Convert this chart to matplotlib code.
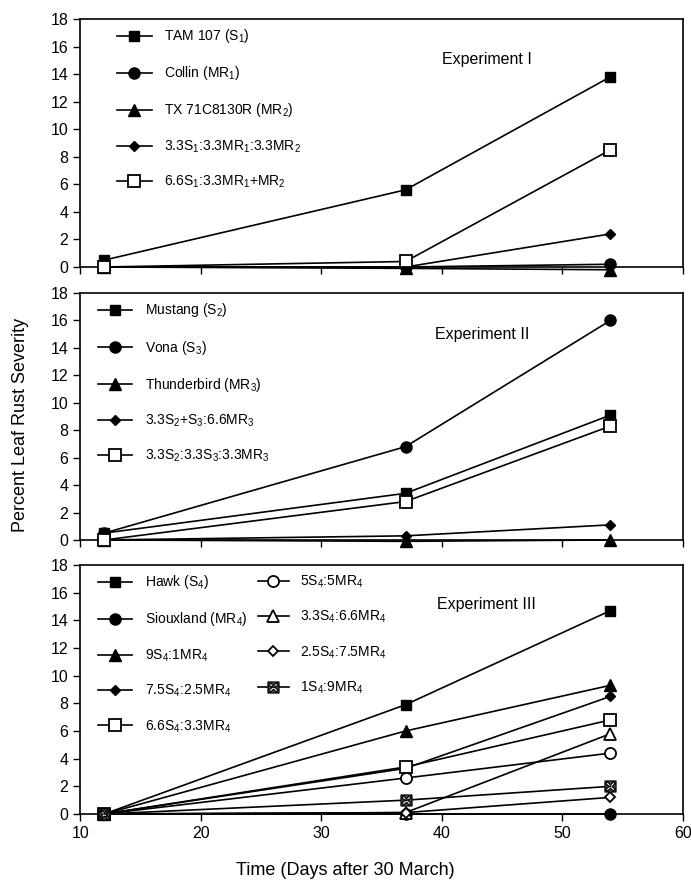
import numpy as np
import matplotlib
matplotlib.use("Agg")
import matplotlib.pyplot as plt
from matplotlib.path import Path

plt.rcParams['font.family'] = ['Liberation Sans', 'DejaVu Sans']
plt.rcParams['mathtext.fontset'] = 'custom'
plt.rcParams['mathtext.rm'] = 'Liberation Sans'
plt.rcParams['mathtext.it'] = 'Liberation Sans'

# ---------------- data ----------------
days = [12, 37, 54]

# Experiment I
exp1_labels = [r'TAM 107 (S$_1$)', r'Collin (MR$_1$)', r'TX 71C8130R (MR$_2$)',
               r'3.3S$_1$:3.3MR$_1$:3.3MR$_2$', r'6.6S$_1$:3.3MR$_1$+MR$_2$']
tam107 = [0.5, 5.6, 13.8]
collin = [0.0, 0.0, 0.2]
tx71 = [0.0, -0.1, -0.2]
mix1a = [0.0, 0.0, 2.4]
mix1b = [0.0, 0.4, 8.5]

# Experiment II
exp2_labels = [r'Mustang (S$_2$)', r'Vona (S$_3$)', r'Thunderbird (MR$_3$)',
               r'3.3S$_2$+S$_3$:6.6MR$_3$', r'3.3S$_2$:3.3S$_3$:3.3MR$_3$']
mustang = [0.5, 3.4, 9.1]
vona = [0.5, 6.8, 16.0]
thunderbird = [0.0, -0.1, 0.0]
mix2a = [0.0, 0.3, 1.1]
mix2b = [0.0, 2.8, 8.3]

# Experiment III
exp3_labels = [r'Hawk (S$_4$)', r'Siouxland (MR$_4$)', r'9S$_4$:1MR$_4$',
               r'7.5S$_4$:2.5MR$_4$', r'6.6S$_4$:3.3MR$_4$', r'5S$_4$:5MR$_4$',
               r'3.3S$_4$:6.6MR$_4$', r'2.5S$_4$:7.5MR$_4$', r'1S$_4$:9MR$_4$']
hawk = [0.0, 7.9, 14.7]
siouxland = [0.0, 0.0, 0.0]
m9_1 = [0.0, 6.0, 9.3]
m75_25 = [0.0, 3.3, 8.5]
m66_33 = [0.0, 3.4, 6.8]
m5_5 = [0.0, 2.6, 4.4]
m33_66 = [0.0, 0.1, 5.8]
m25_75 = [0.0, 0.1, 1.2]
m1_9 = [0.0, 1.0, 2.0]

yticks = [0, 2, 4, 6, 8, 10, 12, 14, 16, 18]
xticks = [10, 20, 30, 40, 50, 60]

# ---------------- marker: square with an X cut out ----------------
_sq = [(-1, -1), (1, -1), (1, 1), (-1, 1), (-1, -1)]
_t, _L = 0.2, 0.95
_plus = np.array([(_t, _t), (_L, _t), (_L, -_t), (_t, -_t), (_t, -_L), (-_t, -_L),
                  (-_t, -_t), (-_L, -_t), (-_L, _t), (-_t, _t), (-_t, _L), (_t, _L),
                  (_t, _t)])
_c, _s = np.cos(np.pi / 4), np.sin(np.pi / 4)
_xcross = _plus @ np.array([[_c, _s], [-_s, _c]])
_verts = list(_sq) + [tuple(v) for v in _xcross]
_codes = ([Path.MOVETO] + [Path.LINETO] * 3 + [Path.CLOSEPOLY] +
          [Path.MOVETO] + [Path.LINETO] * 11 + [Path.CLOSEPOLY])
BOX_X = Path(_verts, _codes)

# ---------------- styles ----------------
LW = 1.2
FILLED_SQ = dict(marker='s', ms=7.5, mfc='black', mec='black')
FILLED_CI = dict(marker='o', ms=8, mfc='black', mec='black')
FILLED_TR = dict(marker='^', ms=8, mfc='black', mec='black')
FILLED_DI = dict(marker='D', ms=5.5, mfc='black', mec='black')
OPEN_SQ = dict(marker='s', ms=8, mfc='white', mec='black', mew=1.3)
OPEN_CI = dict(marker='o', ms=8, mfc='white', mec='black', mew=1.3)
OPEN_TR = dict(marker='^', ms=8, mfc='white', mec='black', mew=1.3)
OPEN_DI = dict(marker='D', ms=5.5, mfc='white', mec='black', mew=1.3)
XSQ = dict(marker=BOX_X, ms=8, mfc='#444444', mec='black', mew=0.8)

fig = plt.figure(figsize=(6.91, 8.90), dpi=100)

left, width = 0.116, 0.872
positions = [(left, 0.700, width, 0.2787),
             (left, 0.3933, width, 0.2775),
             (left, 0.0854, width, 0.2798)]
axes = [fig.add_axes(p) for p in positions]

LEG = dict(loc='upper left', frameon=False, fontsize=10, handlelength=2.5,
           handletextpad=0.9, labelspacing=1.37, borderaxespad=0.3)


def style_axis(ax, show_xlabels):
    ax.set_xlim(10, 60)
    ax.set_ylim(0, 18)
    ax.set_yticks(yticks)
    ax.set_xticks(xticks)
    ax.tick_params(direction='out', length=5, width=1, labelsize=11.5, colors='black')
    if not show_xlabels:
        ax.tick_params(axis='x', labelbottom=False)
    for s in ax.spines.values():
        s.set_linewidth(1.2)


def plot_series(ax, y, label, style, z=3):
    ln, = ax.plot(days, y, color='black', lw=LW, ls='-', label=label, clip_on=False,
                  zorder=z, **style)
    return ln


# Experiment I
ax = axes[0]
h = []
h.append(plot_series(ax, tam107, exp1_labels[0], FILLED_SQ))
h.append(plot_series(ax, collin, exp1_labels[1], FILLED_CI))
h.append(plot_series(ax, tx71, exp1_labels[2], FILLED_TR))
h.append(plot_series(ax, mix1a, exp1_labels[3], FILLED_DI))
h.append(plot_series(ax, mix1b, exp1_labels[4], OPEN_SQ, z=4))
style_axis(ax, False)
ax.legend(handles=h, bbox_to_anchor=(0.045, 1.005), **LEG)
ax.text(0.675, 0.835, 'Experiment I', transform=ax.transAxes, fontsize=11.5,
        ha='center', va='center')

# Experiment II
ax = axes[1]
h = []
h.append(plot_series(ax, mustang, exp2_labels[0], FILLED_SQ))
h.append(plot_series(ax, vona, exp2_labels[1], FILLED_CI))
h.append(plot_series(ax, thunderbird, exp2_labels[2], FILLED_TR))
h.append(plot_series(ax, mix2a, exp2_labels[3], FILLED_DI))
h.append(plot_series(ax, mix2b, exp2_labels[4], OPEN_SQ, z=4))
style_axis(ax, False)
ax.legend(handles=h, bbox_to_anchor=(0.013, 1.005), **LEG)
ax.text(0.668, 0.83, 'Experiment II', transform=ax.transAxes, fontsize=11.5,
        ha='center', va='center')

# Experiment III
ax = axes[2]
h = []
h.append(plot_series(ax, hawk, exp3_labels[0], FILLED_SQ))
h.append(plot_series(ax, siouxland, exp3_labels[1], FILLED_CI))
h.append(plot_series(ax, m9_1, exp3_labels[2], FILLED_TR))
h.append(plot_series(ax, m75_25, exp3_labels[3], FILLED_DI))
h.append(plot_series(ax, m66_33, exp3_labels[4], OPEN_SQ))
h.append(plot_series(ax, m5_5, exp3_labels[5], OPEN_CI))
h.append(plot_series(ax, m33_66, exp3_labels[6], OPEN_TR))
h.append(plot_series(ax, m25_75, exp3_labels[7], OPEN_DI))
h.append(plot_series(ax, m1_9, exp3_labels[8], XSQ, z=5))
style_axis(ax, True)
leg_a = ax.legend(handles=h[:5], bbox_to_anchor=(0.013, 1.005), **LEG)
ax.add_artist(leg_a)
ax.legend(handles=h[5:], bbox_to_anchor=(0.279, 1.005),
          **dict(LEG, handlelength=2.2, handletextpad=0.8))
ax.text(0.675, 0.84, 'Experiment III', transform=ax.transAxes, fontsize=11.5,
        ha='center', va='center')

fig.text(0.03, 0.522, 'Percent Leaf Rust Severity', rotation=90, ha='center', va='center',
         fontsize=13)
fig.text(0.5, 0.022, 'Time (Days after 30 March)', ha='center', va='center', fontsize=13)

fig.savefig('out.png', dpi=100)
